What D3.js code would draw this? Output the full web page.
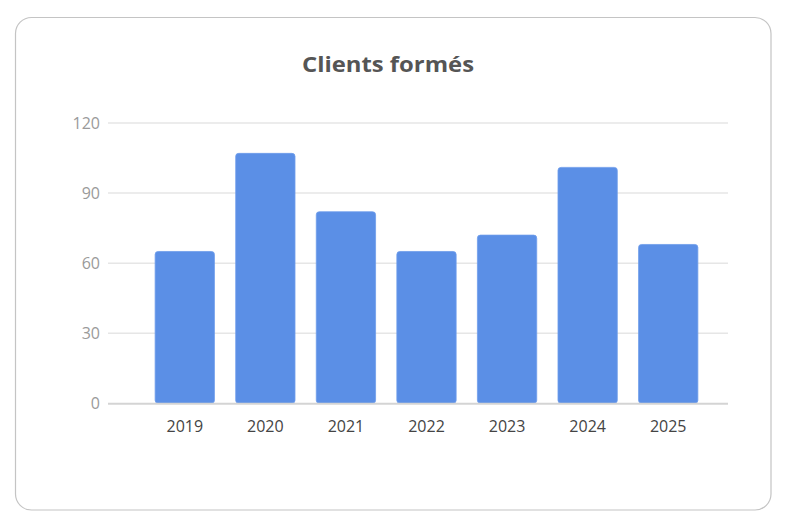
<!DOCTYPE html>
<html><head><meta charset="utf-8">
<script src="https://cdn.jsdelivr.net/npm/d3@7"></script>
<style>
html,body{margin:0;padding:0;background:#fff;}
svg{display:block;}
</style></head>
<body>
<svg id="chart" width="786" height="527"></svg>
<script>
const title = "Clients formés";
const years = ["2019","2020","2021","2022","2023","2024","2025"];
const clients = [65, 107, 82, 65, 72, 101, 68];
const yTicks = [0, 30, 60, 90, 120];

const svg = d3.select("#chart");
svg.append("rect").attr("x",15.5).attr("y",17.5).attr("width",755.5).attr("height",492.5)
  .attr("rx",16).attr("fill","#fff").attr("stroke","#c4c4c4").attr("stroke-width",1.2);

svg.append("text").attr("x",388).attr("y",72).attr("text-anchor","middle")
  .attr("font-family","'Open Sans', sans-serif").attr("font-weight","bold")
  .attr("font-size",22).attr("fill","#555")
  .attr("textLength",172).attr("lengthAdjust","spacingAndGlyphs").text(title);

const gridLeft = 108, gridRight = 728;
const y = d3.scaleLinear().domain([0,120]).range([403.3,123]);
const x = d3.scaleBand().domain(years).range([144.5,708.5]).paddingInner(0.264).paddingOuter(0.132);

// gridlines
svg.append("g").selectAll("line").data(yTicks.filter(d=>d>0)).join("line")
  .attr("x1",gridLeft).attr("x2",gridRight)
  .attr("y1",d=>y(d)).attr("y2",d=>y(d))
  .attr("stroke","#e6e6e6").attr("stroke-width",1.5);

// y labels
const yAxis = d3.axisLeft(y).tickValues(yTicks).tickSize(0).tickPadding(0);
const gy = svg.append("g").attr("transform",`translate(${gridLeft-8},0)`).call(yAxis);
gy.select(".domain").remove();
gy.selectAll("text").attr("font-family","'Open Sans', sans-serif").attr("font-size",16).attr("fill","#9a9a9a");

// bars
svg.append("g").selectAll("rect").data(years).join("rect")
  .attr("x",d=>x(d)).attr("width",x.bandwidth())
  .attr("y",(d,i)=>y(clients[i])).attr("height",(d,i)=>y(0)-y(clients[i]))
  .attr("rx",3).attr("fill","#5b8fe6").attr("stroke","#6f9deb").attr("stroke-width",0.8);

// baseline
svg.append("line").attr("x1",gridLeft).attr("x2",gridRight).attr("y1",y(0)+0.5).attr("y2",y(0)+0.5)
  .attr("stroke","#d4d4d4").attr("stroke-width",2);

// x labels
const xAxis = d3.axisBottom(x).tickSize(0).tickPadding(0);
const gx = svg.append("g").attr("transform",`translate(0,${y(0)+29})`).call(xAxis);
gx.select(".domain").remove();
gx.selectAll("text").attr("dy",0).attr("font-family","'Open Sans', sans-serif").attr("font-size",16).attr("fill","#444");
</script>
</body></html>
